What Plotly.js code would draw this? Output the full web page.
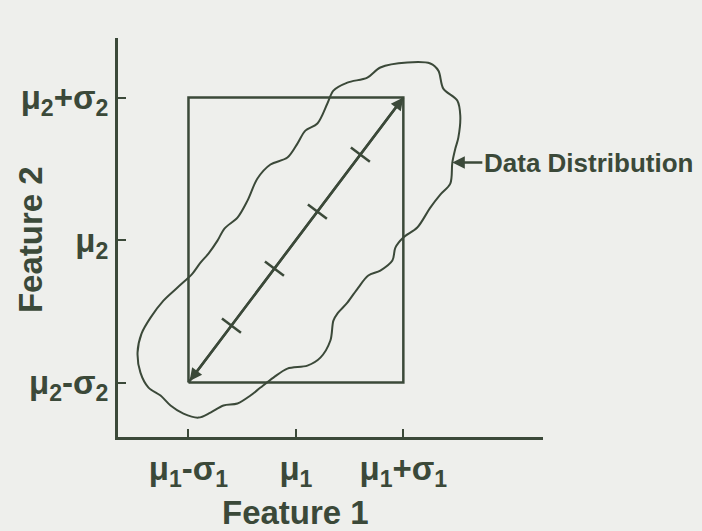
<!DOCTYPE html>
<html>
<head>
<meta charset="utf-8">
<script src="https://cdn.plot.ly/plotly-3.0.1.min.js"></script>
<style>html,body{margin:0;padding:0;background:#eeefec;}</style>
</head>
<body>
<div id="chart" style="width:702px;height:531px;"></div>
<script>
// Feature positions in units of standard deviation from the mean
const xTickVals = [-1, 0, 1];
const xTickText = ['μ<sub>1</sub>-σ<sub>1</sub>', 'μ<sub>1</sub>', 'μ<sub>1</sub>+σ<sub>1</sub>'];
const yTickVals = [-1, 0, 1];
const yTickText = ['μ<sub>2</sub>-σ<sub>2</sub>', 'μ<sub>2</sub>', 'μ<sub>2</sub>+σ<sub>2</sub>'];

// ±1σ box
const rectX = [-1, 1, 1, -1, -1];
const rectY = [-1, -1, 1, 1, -1];

// diagonal (principal direction) and its division marks
const diagStart = [-1, -1];
const diagEnd = [1, 1];
const diagMarks = [-0.6, -0.2, 0.2, 0.6];

// data distribution outline
const blobX = [1.037, 1.251, 1.326, 1.372, 1.502, 1.530, 1.512, 1.484, 1.456, 1.437, 1.344, 1.251, 1.130, 1.000, 0.926, 0.898, 0.786, 0.674, 0.581, 0.479, 0.386, 0.349, 0.321, 0.228, 0.107, -0.079, -0.209, -0.330, -0.423, -0.544, -0.674, -0.795, -0.907, -1.047, -1.167, -1.260, -1.372, -1.447, -1.474, -1.437, -1.353, -1.233, -1.102, -0.963, -0.888, -0.814, -0.730, -0.665, -0.544, -0.451, -0.358, -0.237, -0.079, 0.014, 0.088, 0.200, 0.293, 0.349, 0.479, 0.665, 0.786, 1.037];
const blobY = [1.246, 1.239, 1.189, 1.063, 0.979, 0.874, 0.719, 0.642, 0.544, 0.396, 0.319, 0.228, 0.088, 0.018, -0.053, -0.144, -0.214, -0.249, -0.333, -0.439, -0.516, -0.565, -0.705, -0.825, -0.881, -0.902, -0.965, -1.035, -1.091, -1.147, -1.161, -1.211, -1.246, -1.218, -1.161, -1.091, -1.035, -0.930, -0.789, -0.656, -0.544, -0.425, -0.333, -0.235, -0.158, -0.095, -0.004, 0.081, 0.158, 0.277, 0.432, 0.530, 0.579, 0.677, 0.768, 0.818, 0.958, 1.049, 1.105, 1.140, 1.211, 1.246];

const labelPoint = [1.456, 0.544];
const labelText = 'Data Distribution';
const xTitle = 'Feature 1';
const yTitle = 'Feature 2';

const ink = '#3b4939';
const fam = 'Liberation Sans, Arial, sans-serif';

const traces = [
  {x: blobX, y: blobY, mode: 'lines', line: {color: ink, width: 2, shape: 'spline', smoothing: 0.9}, hoverinfo: 'skip'},
  {x: rectX, y: rectY, mode: 'lines', line: {color: ink, width: 2.5}, hoverinfo: 'skip'},
  {x: [diagStart[0], diagEnd[0]], y: [diagStart[1], diagEnd[1]], mode: 'lines', line: {color: ink, width: 2.5}, hoverinfo: 'skip'},
  {x: diagMarks, y: diagMarks, mode: 'markers', marker: {symbol: 'line-ew', size: 17, angle: 37, line: {color: ink, width: 2.5}}, hoverinfo: 'skip'}
];

const layout = {
  width: 702, height: 531,
  margin: {l: 118, r: 159, t: 38, b: 94},
  paper_bgcolor: '#eeefec', plot_bgcolor: '#eeefec',
  showlegend: false,
  font: {family: fam, color: ink, weight: 'bold'},
  xaxis: {
    range: [-1.656, 2.30], showgrid: false, zeroline: false,
    showline: true, linecolor: ink, linewidth: 3,
    ticks: 'inside', ticklen: 8, tickwidth: 2, tickcolor: ink,
    tickvals: xTickVals, ticktext: xTickText,
    tickfont: {family: fam, size: 33, color: ink, weight: 'bold'}
  },
  yaxis: {
    range: [-1.382, 1.418], showgrid: false, zeroline: false,
    showline: true, linecolor: ink, linewidth: 3,
    ticks: 'inside', ticklen: 8, tickwidth: 2, tickcolor: ink,
    tickvals: yTickVals, ticktext: yTickText,
    tickfont: {family: fam, size: 33, color: ink, weight: 'bold'}
  },
  annotations: [
    {x: diagEnd[0], y: diagEnd[1], ax: diagStart[0], ay: diagStart[1], xref: 'x', yref: 'y', axref: 'x', ayref: 'y',
     text: '', showarrow: true, arrowhead: 2, startarrowhead: 2, arrowside: 'end+start', arrowsize: 1, startarrowsize: 1,
     arrowwidth: 2.5, arrowcolor: ink},
    {x: labelPoint[0], y: labelPoint[1], xref: 'x', yref: 'y', ax: 30, ay: 0,
     text: labelText, xanchor: 'left', showarrow: true, arrowhead: 2, arrowsize: 1, arrowwidth: 2.5, arrowcolor: ink,
     font: {family: fam, size: 26, color: ink, weight: 'bold'}},
    {x: 0, y: 0, xref: 'x', yref: 'paper', yshift: -55, yanchor: 'top', text: xTitle, showarrow: false,
     font: {family: fam, size: 33, color: ink, weight: 'bold'}},
    {x: 0, y: 0, xref: 'paper', yref: 'y', xshift: -88, xanchor: 'center', text: yTitle, textangle: -90, showarrow: false,
     font: {family: fam, size: 33, color: ink, weight: 'bold'}}
  ]
};

Plotly.newPlot('chart', traces, layout, {staticPlot: true, displayModeBar: false});
</script>
</body>
</html>
